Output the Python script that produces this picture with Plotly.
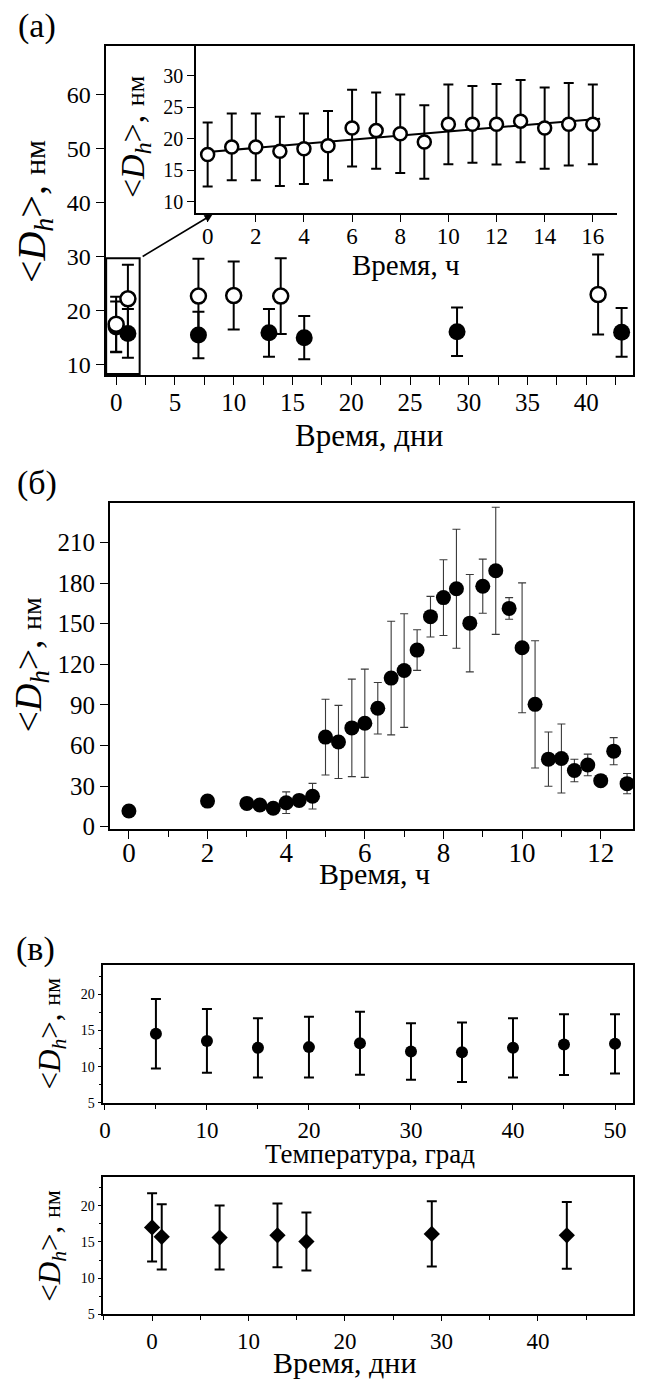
import plotly.graph_objects as go

W, H = 645, 1385
FONT = "Liberation Serif, Times New Roman, serif"

# ---------------- data ----------------
# (a) main: days
a_closed_days = [0, 1, 7, 13, 16, 29, 43]
a_closed_val = [17.0, 15.8, 15.5, 15.9, 15.0, 16.1, 16.0]
a_closed_err = [4.7, 4.5, 4.3, 4.4, 4.0, 4.5, 4.5]

a_open_days = [0, 1, 7, 10, 14, 41]
a_open_val = [17.5, 22.2, 22.7, 22.8, 22.7, 23.0]
a_open_err = [5.1, 6.3, 6.9, 6.3, 7.0, 7.4]

# (a) inset: hours
ins_hours = list(range(17))
ins_val = [17.5, 18.7, 18.7, 18.0, 18.4, 18.9, 21.7, 21.3, 20.8, 19.5,
           22.3, 22.3, 22.3, 22.8, 21.7, 22.3, 22.3]
ins_err = [5.1, 5.3, 5.3, 5.5, 5.6, 5.5, 6.1, 6.05, 6.25, 5.85,
           6.35, 6.1, 6.4, 6.55, 6.45, 6.55, 6.35]
fit_x = [0, 16.3]
fit_y = [17.9, 23.2]

# (б) hours
b_hours = [0, 2, 3, 3.33, 3.67, 4, 4.33, 4.67, 5, 5.33, 5.67, 6, 6.33, 6.67, 7, 7.33,
           7.67, 8, 8.33, 8.67, 9, 9.33, 9.67, 10, 10.33, 10.67, 11, 11.33, 11.67,
           12, 12.33, 12.67]
b_val = [11.6, 18.9, 17.2, 16.0, 13.6, 17.7, 19.4, 22.5, 66.2, 62.6, 73.0, 76.4, 87.5,
         109.8, 115.4, 130.5, 155.2, 169.3, 175.8, 150.4, 177.7, 189.1, 161.3, 132.2,
         90.4, 49.9, 50.4, 41.5, 45.6, 34.0, 55.8, 31.8]
b_err = [0, 0, 0, 0, 0, 8, 0, 9.5, 28, 27, 36, 40, 19, 42, 42, 15,
         15, 28, 44, 36, 20, 47, 8, 48, 47, 20, 25.5, 8.3, 8, 4, 10, 7.5]

# (в) temperature
c_temp = [5, 10, 15, 20, 25, 30, 35, 40, 45, 50]
c_temp_val = [14.55, 13.55, 12.6, 12.7, 13.25, 12.1, 12.0, 12.6, 13.05, 13.15]
c_temp_err = [4.8, 4.4, 4.1, 4.2, 4.35, 3.9, 4.1, 4.1, 4.2, 4.1]

# (в) days
c_days = [0, 1, 7, 13, 16, 29, 43]
c_days_val = [17.0, 15.7, 15.6, 15.9, 15.05, 16.1, 15.9]
c_days_err = [4.7, 4.5, 4.4, 4.4, 4.0, 4.5, 4.6]


def px(x):
    return x / W


def py(y):
    return 1 - y / H


fig = go.Figure()

# (a) main
fig.add_trace(go.Scatter(
    x=a_closed_days, y=a_closed_val, mode="markers", xaxis="x", yaxis="y", cliponaxis=False,
    marker=dict(symbol="circle", size=17, color="black"),
    error_y=dict(type="data", array=a_closed_err, color="black", thickness=2, width=6),
    showlegend=False))
fig.add_trace(go.Scatter(
    x=a_open_days, y=a_open_val, mode="markers", xaxis="x", yaxis="y", cliponaxis=False,
    marker=dict(symbol="circle", size=15, color="white", line=dict(color="black", width=2.5)),
    error_y=dict(type="data", array=a_open_err, color="black", thickness=2, width=6),
    showlegend=False))

# inset
fig.add_trace(go.Scatter(
    x=fit_x, y=fit_y, mode="lines", xaxis="x2", yaxis="y2",
    line=dict(color="black", width=2), showlegend=False))
fig.add_trace(go.Scatter(
    x=ins_hours, y=ins_val, mode="markers", xaxis="x2", yaxis="y2", cliponaxis=False,
    marker=dict(symbol="circle", size=13, color="white", line=dict(color="black", width=2.5)),
    error_y=dict(type="data", array=ins_err, color="black", thickness=2, width=5),
    showlegend=False))

# (б)
fig.add_trace(go.Scatter(
    x=b_hours, y=b_val, mode="markers", xaxis="x3", yaxis="y3", cliponaxis=False,
    marker=dict(symbol="circle", size=15, color="black"),
    error_y=dict(type="data", array=b_err, color="#3a3a3a", thickness=1.1, width=4),
    showlegend=False))

# (в) upper
fig.add_trace(go.Scatter(
    x=c_temp, y=c_temp_val, mode="markers", xaxis="x4", yaxis="y4", cliponaxis=False,
    marker=dict(symbol="circle", size=12, color="black"),
    error_y=dict(type="data", array=c_temp_err, color="black", thickness=2, width=5),
    showlegend=False))

# (в) lower
fig.add_trace(go.Scatter(
    x=c_days, y=c_days_val, mode="markers", xaxis="x5", yaxis="y5", cliponaxis=False,
    marker=dict(symbol="diamond", size=12.5, color="black"),
    error_y=dict(type="data", array=c_days_err, color="black", thickness=2, width=5),
    showlegend=False))


def ax(domain, rng, tickvals, fsize, lw=1.5, mirror=True, ticklen=8, minor=None, anchor=None, **kw):
    d = dict(domain=domain, range=rng, tickvals=tickvals, showgrid=False, zeroline=False,
             showline=True, linecolor="black", linewidth=lw, mirror=mirror,
             ticks="outside", ticklen=ticklen, tickwidth=1.3, tickcolor="black",
             tickfont=dict(family=FONT, size=fsize, color="black"), anchor=anchor)
    if minor:
        d["minor"] = minor
    d.update(kw)
    return d


fig.update_layout(
    width=W, height=H, margin=dict(l=0, r=0, t=0, b=0),
    paper_bgcolor="white", plot_bgcolor="rgba(0,0,0,0)",
    font=dict(family=FONT, color="black"),
    xaxis=ax([px(102.2), px(633.3)], [-0.9, 44.0], [0, 5, 10, 15, 20, 25, 30, 35, 40], 25,
             lw=2, anchor="y", ticklabelstandoff=-4,
             minor=dict(ticks="outside", ticklen=8, dtick=2.5, tick0=0, tickcolor="black")),
    yaxis=ax([py(378.3), py(46.7)], [8.05, 68.9], [10, 20, 30, 40, 50, 60], 24, lw=2, anchor="x"),
    xaxis2=ax([px(193.3), px(616.7)], [-0.48, 17.0], list(range(0, 17, 2)), 23,
              lw=1.5, mirror=False, anchor="y2", ticklen=7, ticklabelstandoff=-6),
    yaxis2=ax([py(215), py(46.7)], [8.15, 34.7], [10, 15, 20, 25, 30], 20,
              lw=1.5, mirror=False, anchor="x2", ticklen=7),
    xaxis3=ax([px(106.3), px(632.5)], [-0.49, 12.81], list(range(0, 13, 2)), 27,
              anchor="y3", ticklabelstandoff=-10,
              minor=dict(ticks="outside", ticklen=6, dtick=1, tick0=0, tickcolor="black")),
    yaxis3=ax([py(836), py(507.3)], [-2, 239], list(range(0, 211, 30)), 25, anchor="x3"),
    xaxis4=ax([px(100), px(633.3)], [-0.15, 51.8], [0, 10, 20, 30, 40, 50], 23,
              anchor="y4", ticklen=5, ticklabelstandoff=1,
              minor=dict(ticks="outside", ticklen=4, dtick=5, tick0=0, tickcolor="black")),
    yaxis4=ax([py(1111.7), py(972.3)], [5, 24.1], [5, 10, 15, 20], 14, anchor="x4", ticklen=4,
              minor=dict(ticks="outside", ticklen=3, dtick=2.5, tick0=0, tickcolor="black")),
    xaxis5=ax([px(100), px(633.3)], [-5.05, 49.9], [0, 10, 20, 30, 40, 50], 23,
              anchor="y5", ticklen=5, ticklabelstandoff=0,
              minor=dict(ticks="outside", ticklen=4, dtick=5, tick0=0, tickcolor="black")),
    yaxis5=ax([py(1325), py(1186)], [5, 24], [5, 10, 15, 20], 14, anchor="x5", ticklen=4,
              minor=dict(ticks="outside", ticklen=3, dtick=2.5, tick0=0, tickcolor="black")),
)

# zoom rectangle in (a)
fig.add_shape(type="rect", xref="x", yref="y", x0=-0.85, x1=2.0, y0=8.3, y1=29.7,
              line=dict(color="black", width=2))


def txt(text, x, y, size, angle=0):
    fig.add_annotation(text=text, x=px(x), y=py(y), xref="paper", yref="paper",
                       showarrow=False, textangle=angle, xanchor="center", yanchor="middle",
                       font=dict(family=FONT, size=size, color="black"))


def dh(small):
    return "&lt;<i>D<sub>h</sub></i>&gt;, <span style='font-size:%dpx'>нм</span>" % small


# arrow from rectangle to inset
fig.add_annotation(x=8.2, y=37.8, ax=2.0, ay=29.7, xref="x", yref="y", axref="x", ayref="y",
                   showarrow=True, arrowhead=2, arrowsize=1, arrowwidth=1.6, arrowcolor="black",
                   text=" ")

txt("(a)", 33, 26, 34)
txt(dh(30), 30, 213, 40, -90)
txt(dh(26), 132, 138, 34, -90)
txt("Время, ч", 405, 267, 29)
txt("Время, дни", 367, 439, 31)

txt("(б)", 33, 487, 34)
txt(dh(28), 27, 670, 38, -90)
txt("Время, ч", 373, 880, 30)

txt("(в)", 32, 957, 34)
txt(dh(24), 48, 1042, 31, -90)
txt("Температура, град", 368, 1163, 27)
txt(dh(24), 48, 1256, 31, -90)
txt("Время, дни", 343, 1373, 30)

fig.write_html("out.html", config={"displayModeBar": False},
               post_script="document.body.style.margin='0px';document.body.style.overflow='hidden';")
